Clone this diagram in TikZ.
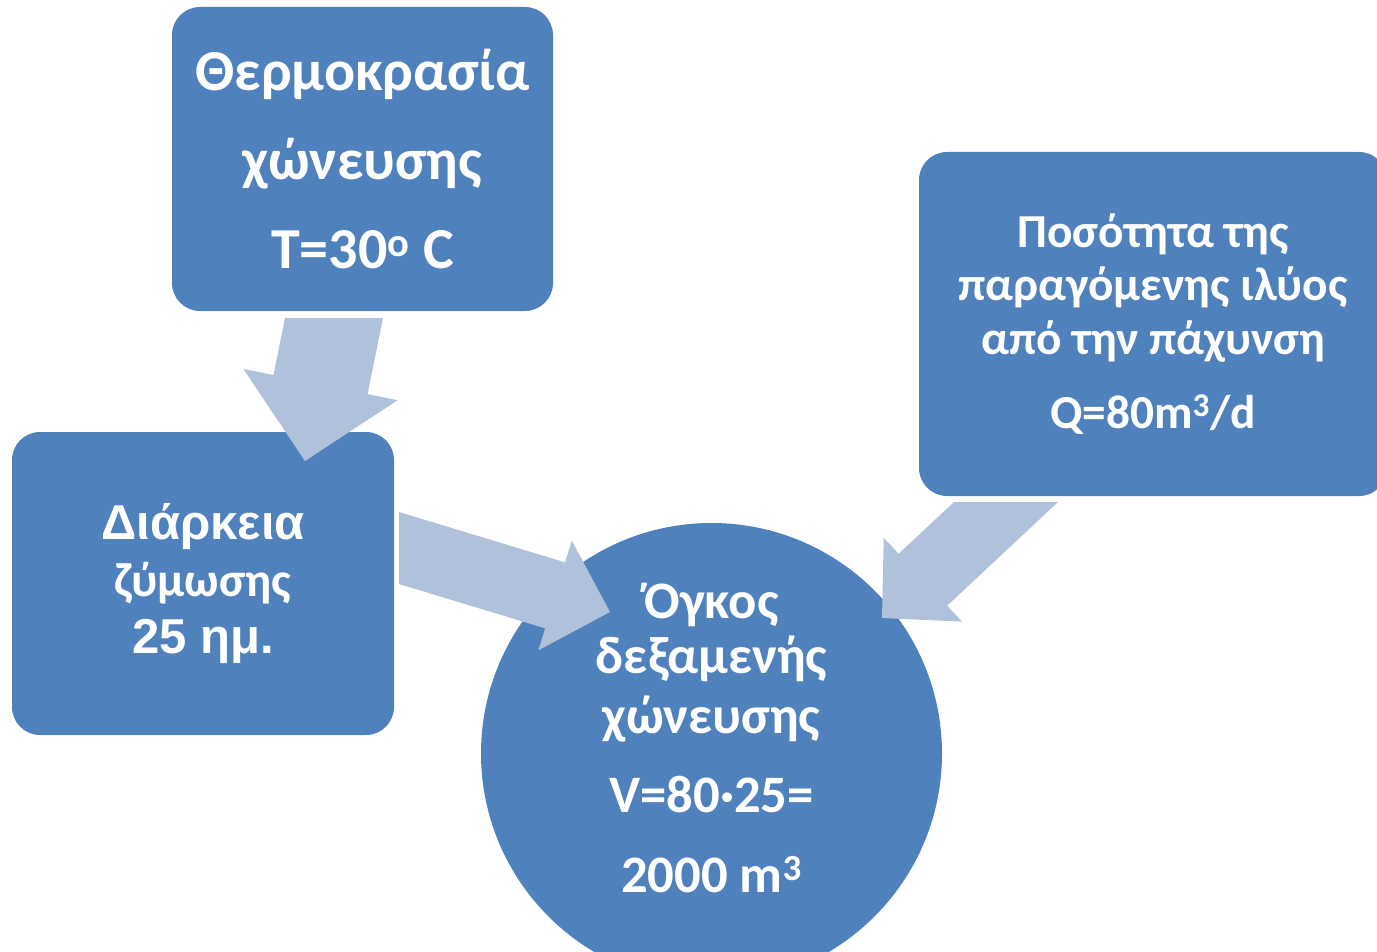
\documentclass[tikz,border=0pt]{standalone}
\usepackage{fontspec}
\setmainfont{Carlito}
\newfontfamily\arialfont{Liberation Sans}
\usetikzlibrary{calc}

\definecolor{boxblue}{RGB}{79,129,189}
\definecolor{arrowblue}{RGB}{176,193,220}

\tikzset{
	box/.style={rectangle, fill=boxblue, rounded corners=21pt, text=white, align=center, inner sep=0pt},
	tank/.style={circle, fill=boxblue, text=white, align=center, inner sep=0pt},
	flowarrow/.style={fill=arrowblue, draw=none},
}

% block arrow: #1,#2 ends of the tail cut, #3 tip, #4 head length, #5 half head width
\newcommand{\blockarrow}[5]{
	\coordinate (ba-s) at ($(#1)!0.5!(#2)$);
	\coordinate (ba-h) at ($(#3)!#4!(ba-s)$);
	\coordinate (ba-p) at ($(ba-h)!1cm!90:(#3)$);
	\coordinate (ba-l) at ($(ba-h)!(#1)!(ba-p)$);
	\coordinate (ba-r) at ($(ba-h)!(#2)!(ba-p)$);
	\coordinate (ba-wl) at ($(ba-h)!#5!(ba-l)$);
	\coordinate (ba-wr) at ($(ba-h)!#5!(ba-r)$);
	\path [flowarrow] (#1) -- (ba-l) -- (ba-wl) -- (#3) -- (ba-wr) -- (ba-r) -- (#2) -- cycle ;
}

\begin{document}
\begin{tikzpicture}[x=0.75pt,y=0.75pt,yscale=-1,xscale=1]
	\clip (0,0) rectangle (1377,952) ;
	
	%Shape: Rounded Rect [temperature]
	\node [box, minimum width=285.75pt, minimum height=228pt, font=\fontsize{43.5}{67}\selectfont\bfseries] (temp) at (362.5,159) {Θερμοκρασία\\χώνευσης\\T=30\textsuperscript{o} C};
	%Shape: Rounded Rect [duration]
	\node [box, minimum width=286.5pt, minimum height=227.25pt, font=\fontsize{36}{43}\selectfont\bfseries] (dur) at (203,583.5) {{\arialfont\fontsize{36.75}{43}\selectfont Διάρκεια}\\ζύμωσης\\{\arialfont\fontsize{36.75}{43}\selectfont 25 ημ.}};
	%Shape: Rounded Rect [sludge flow]
	\node [box, minimum width=351pt, minimum height=258pt, font=\fontsize{35.5}{40}\selectfont\bfseries] (flow) at (1153,324) {Ποσότητα της\\παραγόμενης ιλύος\\από την πάχυνση\\[15.75pt]Q=80m\textsuperscript{3}/d};
	%Shape: Circle [tank volume]
	\node [tank, minimum size=345.75pt, font=\fontsize{39.5}{41.25}\selectfont\bfseries] (vol) at (711.5,753.5) {Όγκος\\δεξαμενής\\[3.75pt]χώνευσης\\[18pt]V=80·25=\\[18.75pt]2000 m\textsuperscript{3}\rule[-23pt]{0pt}{0pt}};
	
	% Arrow ends
	\coordinate (a1l) at (285,318) ;
	\coordinate (a1r) at (383,318) ;
	\coordinate (a1t) at (305,461) ;
	\coordinate (a2l) at (399,512) ;
	\coordinate (a2r) at (399,584) ;
	\coordinate (a2t) at (610,612) ;
	\coordinate (a3l) at (954,502) ;
	\coordinate (a3r) at (1058,502) ;
	\coordinate (a3t) at (882,618) ;
	
	%Block Arrows
	\blockarrow{a1l}{a1r}{a1t}{58.5pt}{59pt}
	\blockarrow{a2l}{a2r}{a2t}{43pt}{43pt}
	\blockarrow{a3l}{a3r}{a3t}{42pt}{43pt}
	
\end{tikzpicture}
\end{document}
